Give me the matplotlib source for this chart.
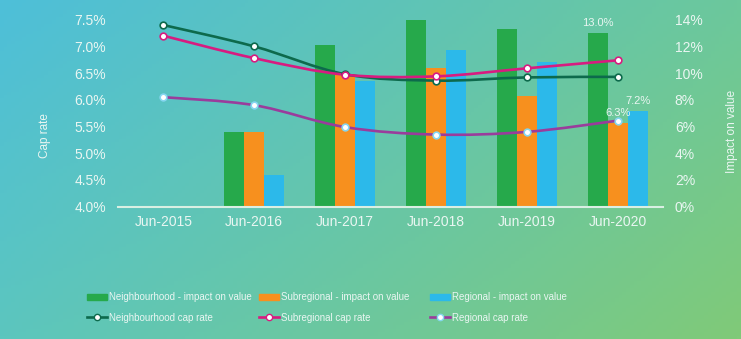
import numpy as np
import matplotlib
matplotlib.use("Agg")
import matplotlib.pyplot as plt
from matplotlib.path import Path
from matplotlib.patches import PathPatch, Patch
from matplotlib.lines import Line2D
from matplotlib.colors import to_rgb

plt.rcParams['font.family'] = ['Liberation Sans', 'DejaVu Sans']

periods = ["Jun-2015", "Jun-2016", "Jun-2017", "Jun-2018", "Jun-2019", "Jun-2020"]

# impact on value (%), right axis; no bars for Jun-2015
neigh_impact = [np.nan, 5.6, 12.1, 14.1, 13.3, 13.0]
subreg_impact = [np.nan, 5.6, 9.9, 10.4, 8.3, 6.3]
reg_impact = [np.nan, 2.4, 9.4, 11.7, 10.8, 7.2]

# cap rates (%), left axis
neigh_cap = [7.40, 7.00, 6.48, 6.36, 6.42, 6.43]
subreg_cap = [7.20, 6.78, 6.47, 6.44, 6.59, 6.74]
reg_cap = [6.05, 5.90, 5.49, 5.35, 5.40, 5.61]

left_ticks = [4.0, 4.5, 5.0, 5.5, 6.0, 6.5, 7.0, 7.5]
right_ticks = [0, 2, 4, 6, 8, 10, 12, 14]

c_green = '#26a94b'
c_orange = '#f7901e'
c_blue = '#2cb9ea'
c_dgreen = '#0d6a4c'
c_magenta = '#d81b80'
c_purple = '#9a3c9c'
txt = '#eaf6f2'


def smooth_path(xs, ys):
    # Catmull-Rom through the points, written as cubic Bezier segments
    p = np.column_stack([xs, ys]).astype(float)
    n = len(p)
    verts = [p[0]]
    codes = [Path.MOVETO]
    for i in range(n - 1):
        p0 = p[i - 1] if i > 0 else p[i]
        p3 = p[i + 2] if i + 2 < n else p[i + 1]
        c1 = p[i] + (p[i + 1] - p0) / 6.0
        c2 = p[i + 1] - (p3 - p[i]) / 6.0
        verts += [c1, c2, p[i + 1]]
        codes += [Path.CURVE4] * 3
    return Path(verts, codes)


fig = plt.figure(figsize=(7.41, 3.39), dpi=100)

# gradient background
bg = fig.add_axes([0, 0, 1, 1], zorder=-10)
tl, tr = np.array(to_rgb('#4ebfd9')), np.array(to_rgb('#6cc89c'))
bl, br = np.array(to_rgb('#5cc6be')), np.array(to_rgb('#80ca78'))
u = np.linspace(0, 1, 200)[None, :, None]
v = np.linspace(0, 1, 100)[:, None, None]
grad = (1 - v) * ((1 - u) * tl + u * tr) + v * ((1 - u) * bl + u * br)
bg.imshow(grad, aspect='auto', extent=[0, 1, 0, 1])
bg.axis('off')

pos = [118 / 741, 1 - 206.7 / 339, (663 - 118) / 741, (206.7 - 19.7) / 339]
ax = fig.add_axes(pos)
ax2 = ax.twinx()
ax.set_zorder(ax2.get_zorder() + 1)
ax.patch.set_visible(False)
ax2.patch.set_visible(False)

x = np.arange(len(periods))
w = 0.22
ax2.bar(x - w, neigh_impact, w, color=c_green)
ax2.bar(x, subreg_impact, w, color=c_orange)
ax2.bar(x + w, reg_impact, w, color=c_blue)

series = [(neigh_cap, c_dgreen, c_dgreen),
          (subreg_cap, c_magenta, c_magenta),
          (reg_cap, c_purple, '#86d6f0')]
for vals, col, edge in series:
    ax.add_patch(PathPatch(smooth_path(x, vals), facecolor='none', edgecolor=col,
                           lw=1.9, capstyle='round', zorder=3))
    ax.plot(x, vals, ls='none', marker='o', ms=4.8, mfc='white', mec=edge,
            mew=1.2, zorder=4)

# value labels on the latest period
i = len(periods) - 1
ax2.text(x[i] - w, neigh_impact[i] + 0.35, f"{neigh_impact[i]:.1f}%", ha='center',
         va='bottom', fontsize=8, color=txt)
ax2.text(x[i], subreg_impact[i] + 0.35, f"{subreg_impact[i]:.1f}%", ha='center',
         va='bottom', fontsize=8, color=txt, zorder=5)
ax2.text(x[i] + w, reg_impact[i] + 0.35, f"{reg_impact[i]:.1f}%", ha='center',
         va='bottom', fontsize=8, color=txt)

ax.set_xlim(-0.5, 5.5)
ax.set_ylim(4.0, 7.5)
ax2.set_ylim(0, 14)
ax.set_xticks(x)
ax.set_xticklabels(periods)
ax.set_yticks(left_ticks)
ax.set_yticklabels([f"{t:.1f}%" for t in left_ticks])
ax2.set_yticks(right_ticks)
ax2.set_yticklabels([f"{t}%" for t in right_ticks])

for a in (ax, ax2):
    for s in a.spines.values():
        s.set_visible(False)
ax.spines['bottom'].set_visible(True)
ax.spines['bottom'].set_color('#d9efe3')
ax.spines['bottom'].set_linewidth(1.5)
ax.tick_params(axis='x', length=0, pad=6, labelsize=10, labelcolor=txt)
ax.tick_params(axis='y', length=0, pad=8.5, labelsize=10, labelcolor=txt)
ax2.tick_params(axis='y', length=0, pad=8.5, labelsize=10, labelcolor=txt)

fig.text(45 / 741, 1 - 136 / 339, "Cap rate", rotation=90, ha='center', va='center',
         fontsize=8.5, color=txt)
fig.text(732 / 741, 1 - 131 / 339, "Impact on value", rotation=90, ha='center',
         va='center', fontsize=8.5, color=txt)

# legend: one block per segment, bar on top and cap rate line below
legend_cols = [
    ("Neighbourhood", c_green, c_dgreen, c_dgreen, 87),
    ("Subregional", c_orange, c_magenta, c_magenta, 259),
    ("Regional", c_blue, c_purple, '#86d6f0', 430),
]
for name, bar_col, line_col, edge, x0 in legend_cols:
    hs = [Patch(color=bar_col, label=f"{name} - impact on value"),
          Line2D([], [], color=line_col, lw=1.9, marker='o', ms=4.5, mfc='white',
                 mec=edge, label=f"{name} cap rate")]
    leg = fig.legend(handles=hs, loc='center left', bbox_to_anchor=(x0 / 741, 1 - 307.5 / 339),
                     frameon=False, fontsize=7, handlelength=2.1, handleheight=0.5,
                     handletextpad=0.15, labelspacing=1.05, borderpad=0,
                     borderaxespad=0, labelcolor=txt)

fig.savefig("out.png", dpi=100)
